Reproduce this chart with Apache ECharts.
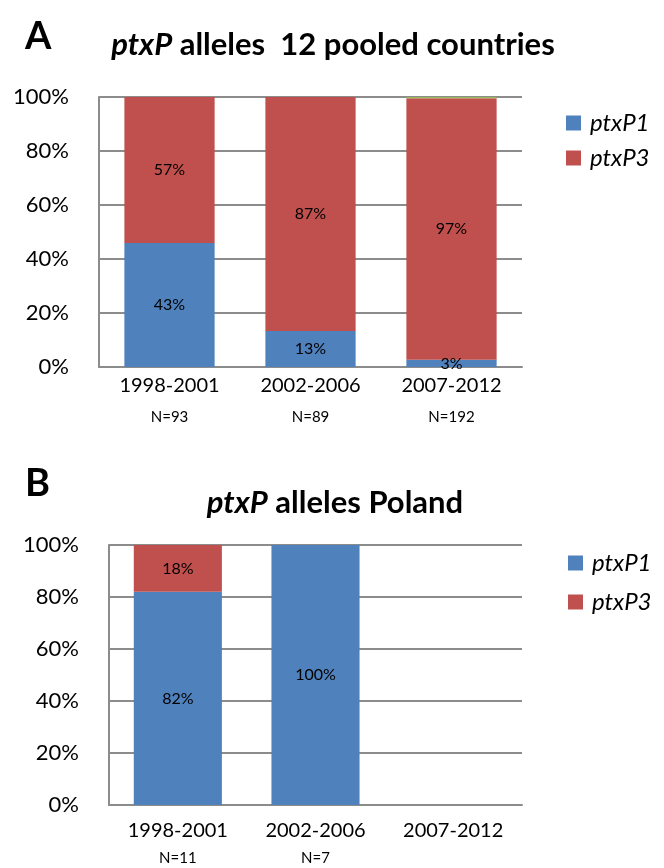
<!DOCTYPE html>
<html><head><meta charset="utf-8">
<script src="https://cdn.jsdelivr.net/npm/echarts@6/dist/echarts.min.js"></script>
<style>html,body{margin:0;padding:0;background:#fff}#c{width:664px;height:868px}</style>
</head><body><div id="c"></div>
<script>
// ---- data ----
const periods = ['1998-2001', '2002-2006', '2007-2012'];
const nA = ['N=93', 'N=89', 'N=192'];
const nB = ['N=11', 'N=7', ''];
// Panel A (12 pooled countries): bar heights as drawn, and printed labels
const ptxP1_A = [45.9, 13.3, 2.7];
const ptxP3_A = [54.1, 86.7, 96.8];
const other_A = [0, 0, 0.5];
const ptxP1_A_lbl = ['43%', '13%', '3%'];
const ptxP3_A_lbl = ['57%', '87%', '97%'];
// Panel B (Poland)
const ptxP1_B = [82, 100, null];
const ptxP3_B = [18, 0, null];
const ptxP1_B_lbl = ['82%', '100%', ''];
const ptxP3_B_lbl = ['18%', '', ''];
const yTicks = [0, 20, 40, 60, 80, 100];

const FONT = 'Lato, "Open Sans", sans-serif';
const BLUE = '#4f81bd', RED = '#c0504d', GREEN = '#9bbb59', GRID = '#8c8c8c';

function yAxis(gi) {
  return {
    type: 'value', gridIndex: gi, min: yTicks[0], max: yTicks[yTicks.length - 1], interval: 20,
    axisLine: {show: true, lineStyle: {color: GRID, width: 2}},
    axisTick: {show: false},
    splitLine: {lineStyle: {color: GRID, width: 2}},
    axisLabel: {formatter: '{value}%', fontFamily: FONT, fontSize: 22, color: '#000', margin: 30}
  };
}
function xAxis(gi, ns, margin, nh) {
  return {
    type: 'category', gridIndex: gi, data: periods,
    axisLine: {lineStyle: {color: GRID, width: 2}},
    axisTick: {show: false},
    axisLabel: {
      margin: margin, interval: 0,
      formatter: (v, i) => ns[i] ? '{c|' + v + '}\n{n|' + ns[i] + '}' : '{c|' + v + '}\n{n| }',
      rich: {
        c: {fontFamily: FONT, fontSize: 20, color: '#000', lineHeight: 24},
        n: {fontFamily: FONT, fontSize: 15, color: '#000', lineHeight: nh}
      }
    }
  };
}
function lbl(arr) {
  return {show: true, position: 'inside', fontFamily: FONT, fontSize: 16, color: '#000',
    formatter: p => arr[p.dataIndex]};
}
const legendText = {fontFamily: FONT, fontSize: 24, fontStyle: 'italic', color: '#000', padding: [0, 0, 0, 4]};

const chart = echarts.init(document.getElementById('c'), null, {renderer: 'canvas'});
chart.setOption({
  animation: false,
  backgroundColor: '#fff',
  title: [
    {text: 'A', left: 20, top: 13, textStyle: {fontFamily: FONT, fontSize: 38, fontWeight: 'bold', color: '#000'}},
    {text: '{i|ptxP} alleles  12 pooled countries', left: 328, textAlign: 'center', top: 24,
      textStyle: {fontFamily: FONT, fontSize: 31, fontWeight: 'bold', color: '#000',
        rich: {i: {fontFamily: FONT, fontSize: 31, fontWeight: 'bold', fontStyle: 'italic', color: '#000'}}}},
    {text: 'B', left: 20, top: 460, textStyle: {fontFamily: FONT, fontSize: 38, fontWeight: 'bold', color: '#000'}},
    {text: '{i|ptxP} alleles Poland', left: 330, textAlign: 'center', top: 482,
      textStyle: {fontFamily: FONT, fontSize: 31, fontWeight: 'bold', color: '#000',
        rich: {i: {fontFamily: FONT, fontSize: 31, fontWeight: 'bold', fontStyle: 'italic', color: '#000'}}}}
  ],
  legend: [
    {data: ['ptxP1', 'ptxP3'], orient: 'vertical', left: 561, top: 106, itemWidth: 15, itemHeight: 15,
      itemGap: 11, icon: 'rect', selectedMode: false, textStyle: legendText},
    {data: ['ptxP1', 'ptxP3'], orient: 'vertical', left: 563, top: 546, itemWidth: 15, itemHeight: 15,
      itemGap: 15, icon: 'rect', selectedMode: false, textStyle: legendText}
  ],
  grid: [
    {left: 99, top: 97, width: 423, height: 270},
    {left: 109, top: 545, width: 413, height: 260}
  ],
  xAxis: [xAxis(0, nA, 7, 38), xAxis(1, nB, 14, 30)],
  yAxis: [yAxis(0), yAxis(1)],
  series: [
    {name: 'ptxP1', type: 'bar', stack: 'a', xAxisIndex: 0, yAxisIndex: 0, barWidth: '64%',
      itemStyle: {color: BLUE}, data: ptxP1_A, label: lbl(ptxP1_A_lbl)},
    {name: 'ptxP3', type: 'bar', stack: 'a', xAxisIndex: 0, yAxisIndex: 0, barWidth: '64%',
      itemStyle: {color: RED}, data: ptxP3_A, label: lbl(ptxP3_A_lbl)},
    {name: 'other', type: 'bar', stack: 'a', xAxisIndex: 0, yAxisIndex: 0, barWidth: '64%',
      itemStyle: {color: GREEN}, data: other_A},
    {name: 'ptxP1', type: 'bar', stack: 'b', xAxisIndex: 1, yAxisIndex: 1, barWidth: '64%',
      itemStyle: {color: BLUE}, data: ptxP1_B, label: lbl(ptxP1_B_lbl)},
    {name: 'ptxP3', type: 'bar', stack: 'b', xAxisIndex: 1, yAxisIndex: 1, barWidth: '64%',
      itemStyle: {color: RED}, data: ptxP3_B, label: lbl(ptxP3_B_lbl)}
  ]
});
</script></body></html>
